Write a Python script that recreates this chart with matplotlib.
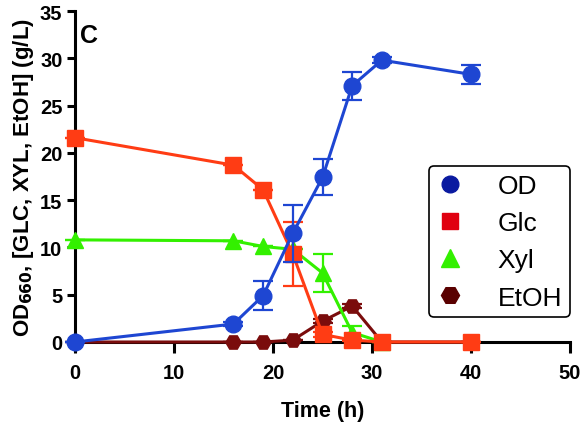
import matplotlib.pyplot as plt
from matplotlib.lines import Line2D

plt.rcParams['font.family'] = ['Liberation Sans', 'DejaVu Sans']

# 時間 (h)
t_od = [0, 16, 19, 22, 25, 28, 31, 40]
od = [0.0, 1.9, 4.9, 11.5, 17.4, 27.1, 29.8, 28.3]
od_err = [0.0, 0.2, 1.5, 3.0, 1.9, 1.5, 0.3, 1.0]

t_glc = [0, 16, 19, 22, 25, 28, 31, 40]
glc = [21.6, 18.7, 16.1, 9.3, 0.8, 0.2, 0.0, 0.0]
glc_err = [0.0, 0.0, 0.0, 3.4, 0.3, 0.1, 0.0, 0.0]

t_xyl = [0, 16, 19, 22, 25, 28, 31]
xyl = [10.8, 10.7, 10.1, 9.8, 7.3, 1.0, 0.0]
xyl_err = [0.0, 0.0, 0.0, 0.0, 2.0, 0.7, 0.0]

t_etoh = [0, 16, 19, 22, 25, 28, 31, 40]
etoh = [0.0, 0.0, 0.0, 0.2, 2.2, 3.8, 0.0, 0.0]
etoh_err = [0.0, 0.0, 0.0, 0.0, 0.2, 0.2, 0.0, 0.0]

fig = plt.figure(figsize=(5.82, 4.27), dpi=100)
ax = fig.add_axes([75 / 582, 1 - 343 / 427, 495 / 582, 331 / 427])

lw = 2.2
common = dict(linewidth=lw, elinewidth=1.6, capsize=7, capthick=1.6, clip_on=False)
ax.errorbar(t_etoh, etoh, yerr=etoh_err, color='#7a0c0c', marker='H', markersize=11, zorder=3, **common)
ax.errorbar(t_xyl, xyl, yerr=xyl_err, color='#33f000', marker='^', markersize=12, zorder=4, **common)
ax.errorbar(t_glc, glc, yerr=glc_err, color='#ff3c14', marker='s', markersize=11, zorder=5, **common)
ax.errorbar(t_od, od, yerr=od_err, color='#1e46d2', marker='o', markersize=12, zorder=6, **common)

ax.set_xlim(0, 50)
ax.set_ylim(0, 35)
ax.set_xticks(range(0, 51, 10))
ax.set_yticks(range(0, 36, 5))
for s in ['top', 'right']:
    ax.spines[s].set_visible(False)
for s in ['left', 'bottom']:
    ax.spines[s].set_linewidth(2.2)
ax.tick_params(axis='x', width=2.2, length=8, labelsize=14.5, pad=7)
ax.tick_params(axis='y', width=2.2, length=6, labelsize=14.5, pad=3)
for lbl in ax.get_xticklabels() + ax.get_yticklabels():
    lbl.set_fontweight('bold')

ax.set_xlabel('Time (h)', fontsize=15.5, fontweight='bold', labelpad=13)
ax.set_ylabel(r'OD$_{\mathbf{660}}$, [GLC, XYL, EtOH] (g/L)', fontsize=16, fontweight='bold', labelpad=3)
ax.text(0.01, 0.965, 'C', transform=ax.transAxes, fontsize=18, fontweight='heavy', va='top')

handles = [
    Line2D([], [], color='#0a1aa0', marker='o', linestyle='none', markersize=12),
    Line2D([], [], color='#e00010', marker='s', linestyle='none', markersize=11),
    Line2D([], [], color='#33f000', marker='^', linestyle='none', markersize=13),
    Line2D([], [], color='#5a0000', marker='H', linestyle='none', markersize=13),
]
leg = ax.legend(handles, ['OD', 'Glc', 'Xyl', 'EtOH'], loc='upper right',
                bbox_to_anchor=(1.0, 1 - 155 / 331), borderaxespad=0, fontsize=19,
                frameon=True, fancybox=True, edgecolor='black', handletextpad=1.3,
                labelspacing=0.5, borderpad=0.3, handlelength=1.0)
leg.get_frame().set_linewidth(1.2)
leg.get_frame().set_alpha(1)

plt.savefig('out.png', dpi=100)
